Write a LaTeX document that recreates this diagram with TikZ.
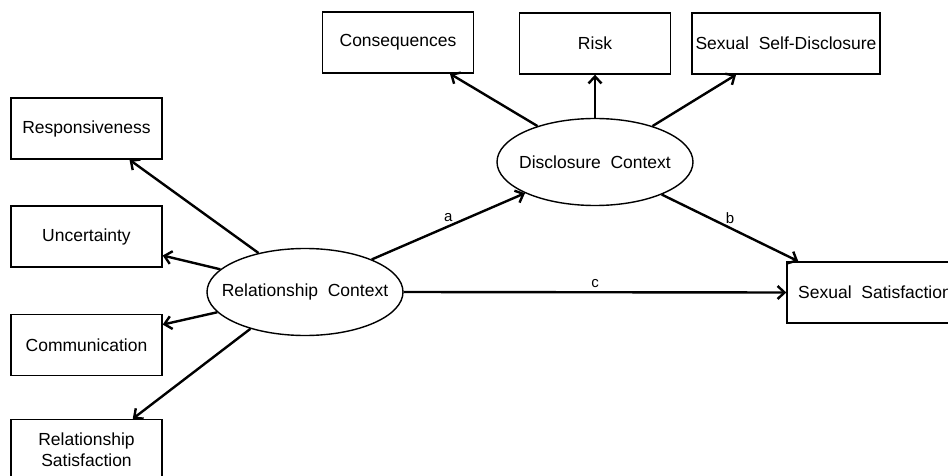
\documentclass[tikz,border=0pt]{standalone}
\usepackage{fontspec}
\setmainfont{Liberation Sans}
\usetikzlibrary{positioning,arrows.meta,shapes.geometric}

\begin{document}
\begin{tikzpicture}[x=1pt,y=-1pt,>={Straight Barb[length=7pt,width=13pt]},
  box/.style={draw,line width=1.4pt,rectangle,inner sep=0pt,minimum width=151pt,minimum height=61pt,font=\fontsize{17.5}{21}\selectfont,align=center},
  latent/.style={draw,line width=1.4pt,ellipse,inner xsep=-14pt,inner ysep=0pt,minimum width=196pt,minimum height=87pt,font=\fontsize{17.5}{21}\selectfont},
  path/.style={->,line width=2.4pt},
  coef/.style={font=\fontsize{15}{18}\selectfont,inner sep=3pt}]

\useasboundingbox (0,0) rectangle (948,476);
\clip (0,0) rectangle (948,476);

\node [latent] at (305,292) (rc) {Relationship\ \ Context};
\node [latent] at (595,162) (dc) {Disclosure\ \ Context};

\node [box] at (86.5,128.5) (resp) {Responsiveness};
\node [box] at (86.5,236.5) (unc) {Uncertainty};
\node [box] at (86.5,345) (comm) {Communication};
\node [box] at (86.5,450) (rs) {Relationship\\Satisfaction};

\node [box] at (398,42.5) (cons) {Consequences};
\node [box] at (595,43.5) (risk) {Risk};
\node [box,minimum width=188pt] at (786,43.5) (ssd) {Sexual\ \ Self-Disclosure};
\node [box,minimum width=176pt] at (875,292.5) (ss) {Sexual\ \ Satisfaction};

\draw [path] (rc.140) -- (resp.-36);
\draw [path] (rc.165) -- (unc.-14);
\draw [path] (rc.193) -- (comm.15);
\draw [path] (rc.214) -- (rs.34);

\draw [path] (dc.148) -- (cons.-31);
\draw [path] (dc) -- (risk);
\draw [path] (dc.32) -- (ssd.212);

\draw [path] (rc.26) -- node [coef,above] {a} (dc.204);
\draw [path] (dc.-26) -- node [coef,above] {b} ([xshift=12pt]ss.north west);
\draw [path] (rc.east) -- node [coef,above] {c} (ss.west);

\end{tikzpicture}
\end{document}
